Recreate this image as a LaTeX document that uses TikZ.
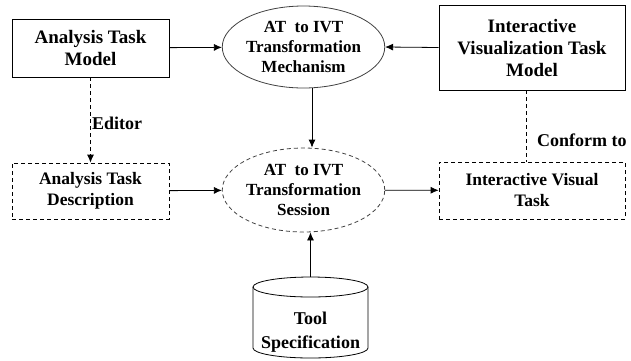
\documentclass[tikz,border=0pt]{standalone}
\usepackage{fontspec}
\setmainfont{Liberation Serif}
\usetikzlibrary{shapes,shapes.geometric,arrows.meta}
\tikzset{
  base/.style = {align=center, inner sep=0pt, text centered, font=\fontsize{18}{21}\selectfont\bfseries, line width=0.8pt},
  solidbox/.style = {base, rectangle, draw=black, font=\fontsize{19}{22}\selectfont\bfseries},
  dashbox/.style = {base, rectangle, draw=black, dash pattern=on 4pt off 3pt, font=\fontsize{17.5}{21}\selectfont\bfseries},
  solidell/.style = {base, ellipse, draw=black!75, minimum width=157pt, font=\fontsize{17}{20}\selectfont\bfseries},
  dashell/.style = {solidell, dash pattern=on 4pt off 3pt},
  dbtext/.style = {base, font=\fontsize{18}{24}\selectfont\bfseries},
  lbl/.style = {anchor=west, inner sep=0pt, font=\fontsize{18}{21}\selectfont\bfseries},
  link/.style = {line width=0.8pt, -{Latex[length=8pt,width=7pt]}},
  dashlink/.style = {link, dash pattern=on 4pt off 3pt}
}
\begin{document}
\begin{tikzpicture}[x=1pt,y=-1pt]
\useasboundingbox (0,0) rectangle (631,360);
% top row
\node [solidbox, minimum width=157pt, minimum height=58pt] (atm) at (90.5,48) {Analysis Task\\Model};
\node [solidell, minimum height=82pt] (mech) at (303.5,47) {AT\ \ to IVT\\Transformation\\Mechanism};
\node [solidbox, minimum width=186pt, minimum height=85pt] (ivtm) at (532,47.5) {Interactive\\Visualization Task\\Model};
% middle row
\node [dashbox, minimum width=157pt, minimum height=56pt] (atd) at (90.5,191) {Analysis Task\\Description};
\node [dashell, minimum height=84pt] (sess) at (303.5,190) {AT\ \ to IVT\\Transformation\\Session};
\node [dashbox, minimum width=186pt, minimum height=57pt] (ivt) at (532,190.5) {Interactive Visual\\Task};
% bottom: tool store drawn by hand
\draw [line width=0.8pt] (310.5,287) ellipse [x radius=57.5, y radius=10];
\draw [line width=0.8pt] (253,287) -- (253,348) arc [start angle=180, end angle=0, x radius=57.5, y radius=10] -- (368,287);
\coordinate (tooltop) at (310.5,277);
\node [dbtext] (tool) at (310.5,332) {Tool\\Specification};
% labels
\node [lbl] (editor) at (92,123) {Editor};
\node [lbl] (conform) at (537,140) {Conform to};
% connectors
\draw [link] (atm) -- (mech);
\draw [link] (ivtm.west) -- (mech.east);
\draw [dashlink] (atm) -- (atd);
\draw [link] ([xshift=8.5pt]mech.south) -- ([xshift=8.5pt]sess.north);
\draw [link] (atd) -- (sess);
\draw [link] (sess) -- (ivt);
\draw [link] (tooltop) -- (tooltop |- sess.south);
\draw [line width=0.8pt, dash pattern=on 4pt off 3pt] (ivtm.south -| conform.west) ++(-11pt,0) coordinate (c1) -- (c1 |- ivt.north);
\end{tikzpicture}
\end{document}
